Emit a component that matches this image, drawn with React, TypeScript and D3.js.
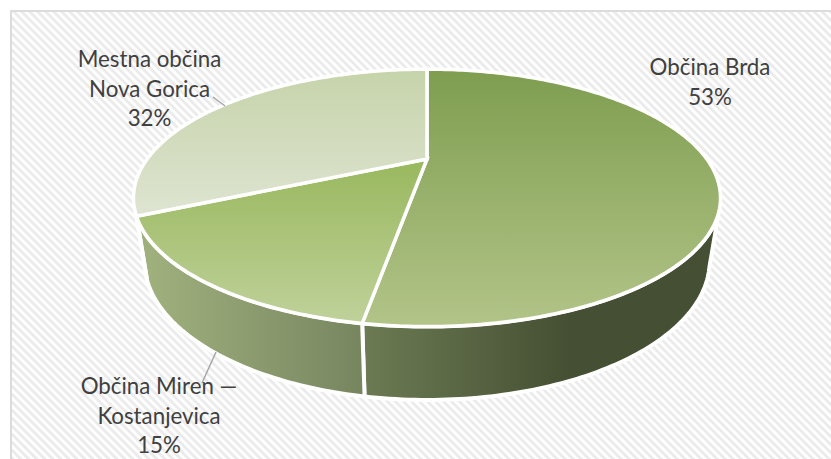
import React from 'react'
import * as d3 from 'd3'

const W = 831
const H = 459

// občine, deleži v % (odčitano s slike)
const names = ['Občina Brda', 'Občina Miren — Kostanjevica', 'Mestna občina Nova Gorica']
const shares = [52.6, 15.4, 32]
const labelLines = [['Občina Brda'], ['Občina Miren —', 'Kostanjevica'], ['Mestna občina', 'Nova Gorica']]
const labelPos = [
  { x: 710, y: 75 },
  { x: 159, y: 394 },
  { x: 149.5, y: 67 }
]
const leaders = [
  null,
  [[216, 352], [202, 383]],
  [[225, 106], [213, 97]]
]

const topStops = [
  ['#7f9e50', '#b2c488'],
  ['#99b85e', '#bfd19a'],
  ['#c6d4ab', '#dee4d1']
]
const topRange = [
  [72, 325],
  [160, 322],
  [72, 215]
]
const wallStops = [
  ['#6c7b53', '#454f33'],
  ['#9fb07d', '#788660']
]
const wallRange = [
  [362, 570],
  [150, 360]
]

const apex: [number, number] = [427, 159]

// perspektivna preslikava kroga
const makeDisc = (cx: number, cy: number, a: number, b: number, k: number) => (angle: number): [number, number] => {
  const u = Math.sin(angle)
  const v = -Math.cos(angle)
  const d = 1 - k * v
  return [cx + (a * u) / d, cy + (b * v) / d]
}
const topDisc = makeDisc(apex[0], apex[1], 279.8, 117, 0.302)
const bottomDisc = makeDisc(427, 219, 269.5, 126.3, 0.302)

const wallFrom = (110 * Math.PI) / 180
const wallTo = (245 * Math.PI) / 180

const line = d3.line<[number, number]>()
const sample = (a0: number, a1: number) => {
  const n = Math.max(2, Math.ceil(Math.abs(a1 - a0) * 60))
  return d3.range(n + 1).map(i => a0 + ((a1 - a0) * i) / n)
}

export default function App() {
  const arcs = d3.pie<number>().sort(null).startAngle(0).endAngle(2 * Math.PI)(shares)
  const total = d3.sum(shares)

  return (
    <svg width={W} height={H} style={{ position: 'fixed', left: 0, top: 0 }} fontFamily="Lato, 'Open Sans', sans-serif">
      <defs>
        <pattern id="stripes" width={5.66} height={5.66} patternUnits="userSpaceOnUse" patternTransform="rotate(-45)">
          <rect width={5.66} height={5.66} fill="#ffffff" />
          <rect width={2.83} height={5.66} fill="#ebebeb" />
        </pattern>
        {arcs.map((_, i) => (
          <linearGradient key={i} id={`top-${i}`} gradientUnits="userSpaceOnUse" x1={0} x2={0} y1={topRange[i][0]} y2={topRange[i][1]}>
            <stop offset="0%" stopColor={topStops[i][0]} />
            <stop offset="100%" stopColor={topStops[i][1]} />
          </linearGradient>
        ))}
        {wallStops.map((s, i) => (
          <linearGradient key={i} id={`wall-${i}`} gradientUnits="userSpaceOnUse" y1={0} y2={0} x1={wallRange[i][0]} x2={wallRange[i][1]}>
            <stop offset="0%" stopColor={s[0]} />
            <stop offset="100%" stopColor={s[1]} />
          </linearGradient>
        ))}
      </defs>

      <rect x={0} y={0} width={W} height={H} fill="#ffffff" />
      <rect x={11} y={11} width={W} height={H} fill="url(#stripes)" stroke="#dcdcdc" strokeWidth={2} />

      {/* stena */}
      {arcs.map((d, i) => {
        const a0 = Math.max(d.startAngle, wallFrom)
        const a1 = Math.min(d.endAngle, wallTo)
        if (a1 <= a0) return null
        const pts = [...sample(a0, a1).map(topDisc), ...sample(a1, a0).map(bottomDisc)]
        return <path key={i} d={line(pts) + 'Z'} fill={`url(#wall-${i})`} stroke="#ffffff" strokeWidth={4} strokeLinejoin="round" />
      })}

      {/* zgornja ploskev */}
      {arcs.map((d, i) => {
        const pts: [number, number][] = [apex, ...sample(d.startAngle, d.endAngle).map(topDisc)]
        return <path key={i} d={line(pts) + 'Z'} fill={`url(#top-${i})`} stroke="#ffffff" strokeWidth={3.5} strokeLinejoin="miter" />
      })}

      {leaders.map((l, i) =>
        l ? <path key={i} d={line(l as [number, number][]) as string} fill="none" stroke="#a6a6a6" strokeWidth={1.5} /> : null
      )}

      {names.map((name, i) => {
        const lines = [...labelLines[i], `${d3.format('.0f')((shares[i] / total) * 100)}%`]
        return (
          <text key={name} x={labelPos[i].x} y={labelPos[i].y} textAnchor="middle" fontSize={22.3} fill="#404040">
            {lines.map((t, j) => (
              <tspan key={j} x={labelPos[i].x} dy={j === 0 ? 0 : 29.5}>
                {t}
              </tspan>
            ))}
          </text>
        )
      })}
    </svg>
  )
}
